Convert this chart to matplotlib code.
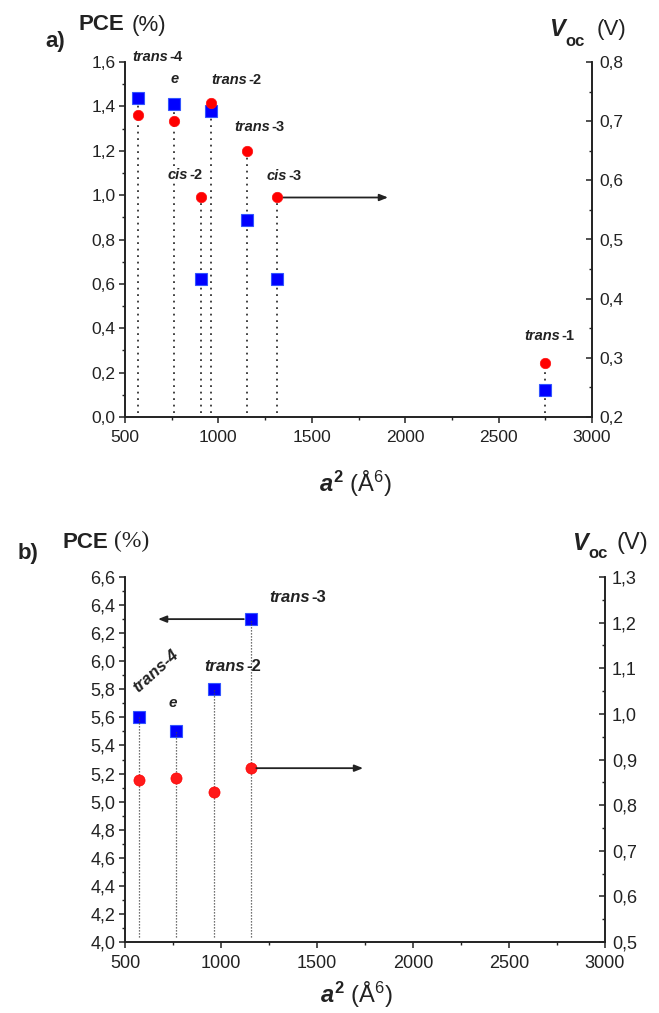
import matplotlib
matplotlib.use('Agg')
import matplotlib.pyplot as plt
from matplotlib.ticker import MultipleLocator, FuncFormatter

plt.rcParams['font.family'] = ['Liberation Sans', 'DejaVu Sans']
plt.rcParams['mathtext.fontset'] = 'custom'
plt.rcParams['mathtext.rm'] = 'Liberation Sans'
plt.rcParams['mathtext.it'] = 'Liberation Sans:italic:bold'
plt.rcParams['mathtext.bf'] = 'Liberation Sans:bold'

# ---------------- data ----------------
a_x = [568, 762, 960, 907, 1151, 1315, 2750]
a_names = ['trans-4', 'e', 'trans-2', 'cis-2', 'trans-3', 'cis-3', 'trans-1']
a_pce = [1.44, 1.41, 1.38, 0.62, 0.89, 0.62, 0.12]
a_voc = [0.710, 0.701, 0.731, 0.571, 0.650, 0.571, 0.292]

b_x = [571, 764, 962, 1155]
b_names = ['trans-4', 'e', 'trans-2', 'trans-3']
b_pce = [5.6, 5.5, 5.8, 6.3]
b_voc = [0.854, 0.860, 0.829, 0.881]

x_ticks = [500, 1000, 1500, 2000, 2500, 3000]

# ---------------- layout ----------------
W, H = 659, 1013
fig = plt.figure(figsize=(W / 100, H / 100), dpi=100)


def fpos(px, py):
    return px / W, 1 - py / H


def axrect(l, t, r, b):
    return [l / W, 1 - b / H, (r - l) / W, (b - t) / H]


comma = FuncFormatter(lambda v, p: f'{v:.1f}'.replace('.', ','))
INK = '#222222'


def style(ax, ax2, fs, ylim, y2lim, ymaj, y2maj):
    ax.set_xlim(500, 3000)
    ax.set_ylim(*ylim)
    ax2.set_ylim(*y2lim)
    ax.set_xticks(x_ticks)
    ax.xaxis.set_minor_locator(MultipleLocator(250))
    ax.yaxis.set_major_locator(MultipleLocator(ymaj))
    ax.yaxis.set_minor_locator(MultipleLocator(ymaj / 2))
    ax2.yaxis.set_major_locator(MultipleLocator(y2maj))
    ax2.yaxis.set_minor_locator(MultipleLocator(y2maj / 2))
    ax.yaxis.set_major_formatter(comma)
    ax2.yaxis.set_major_formatter(comma)
    for a in (ax, ax2):
        a.spines['top'].set_visible(False)
        for s in a.spines.values():
            s.set_linewidth(1.2)
            s.set_color(INK)
    ax.tick_params(axis='both', which='major', direction='out', length=4.5,
                   width=1.1, color=INK, labelsize=fs, labelcolor=INK)
    ax.tick_params(axis='both', which='minor', direction='out', length=2.5,
                   width=1.0, color=INK)
    ax.tick_params(axis='x', which='major', pad=5)
    ax.tick_params(axis='y', which='major', pad=2.5)
    ax2.tick_params(axis='y', which='major', direction='in', length=4.5,
                    width=1.1, color=INK, labelsize=fs, labelcolor=INK, pad=5)
    ax2.tick_params(axis='y', which='minor', direction='in', length=2.5,
                    width=1.0, color=INK)


def split_label(px, py, it, rest, fs, bbox=False):
    kw = {}
    if bbox:
        kw['bbox'] = dict(fc='white', ec='none', pad=0.3)
    fig.text(*fpos(px, py), it, ha='right', va='center', fontsize=fs,
             fontstyle='italic', fontweight='bold', color=INK, **kw)
    if rest:
        fig.text(*fpos(px + 1, py), rest, ha='left', va='center', fontsize=fs,
                 fontweight='bold', color=INK, **kw)


# ================= panel a =================
ax = fig.add_axes(axrect(125, 62, 592, 417))
ax2 = ax.twinx()
ax2.set_position(axrect(125, 62, 592, 417))
style(ax, ax2, 12.5, (0, 1.6), (0.2, 0.8), 0.2, 0.1)

for x, p, v in zip(a_x, a_pce, a_voc):
    v_in_left = (v - 0.2) / 0.6 * 1.6
    ax.plot([x, x], [0.02, max(p, v_in_left)], color='#333333', lw=1.3,
            ls=(0, (1.0, 2.6)), zorder=1)
ax.plot(a_x, a_pce, ls='none', marker='s', ms=8.5, mfc='#0000ff',
        mec='#3355ff', mew=0.8, zorder=4)
ax2.plot(a_x, a_voc, ls='none', marker='o', ms=7.5, mfc='#ff0000',
         mec='#ff1010', mew=0.5, zorder=4)
ax2.annotate('', xy=(1908, a_voc[5]), xytext=(a_x[5], a_voc[5]),
             arrowprops=dict(arrowstyle='-|>,head_length=0.5,head_width=0.2',
                             lw=1.3, color=INK, shrinkA=4, shrinkB=0))

a_lab_pos = {'trans-4': (168, 57), 'e': (175, 79), 'trans-2': (247, 80),
             'trans-3': (270, 127), 'cis-2': (188, 175), 'cis-3': (287, 176),
             'trans-1': (560, 336)}
for name in a_names:
    px, py = a_lab_pos[name]
    if '-' in name:
        it, num = name.split('-')
        split_label(px, py, it, '-' + num, 10.5, bbox=(name == 'cis-2'))
    else:
        fig.text(*fpos(px, py), name, ha='center', va='center', fontsize=10.5,
                 fontstyle='italic', fontweight='bold', color=INK)

fig.text(*fpos(45, 42), 'a)', ha='left', va='center', fontsize=16,
         fontweight='bold', color=INK)
fig.text(*fpos(78, 25), 'PCE', ha='left', va='center', fontsize=16,
         fontweight='bold', color=INK)
fig.text(*fpos(132, 25), '(%)', ha='left', va='center', fontsize=16, color=INK)
fig.text(*fpos(549, 30), 'V', ha='left', va='center', fontsize=17,
         fontweight='bold', fontstyle='italic', color=INK)
fig.text(*fpos(565, 42), 'oc', ha='left', va='center', fontsize=12,
         fontweight='bold', color=INK)
fig.text(*fpos(597, 30), '(V)', ha='left', va='center', fontsize=16, color=INK)
fig.text(*fpos(355, 484), r'$a^{\mathbf{2}}$ (Å$^{\mathrm{6}}$)', ha='center',
         va='center', fontsize=17, color=INK)

# ================= panel b =================
bx = fig.add_axes(axrect(125, 577, 605, 942))
bx2 = bx.twinx()
bx2.set_position(axrect(125, 577, 605, 942))
style(bx, bx2, 13, (4.0, 6.6), (0.5, 1.3), 0.2, 0.1)

bx.plot(b_x, b_pce, ls='none', marker='s', ms=8.5, mfc='#0000ff',
        mec='#3355ff', mew=0.8, zorder=3)
bx2.plot(b_x, b_voc, ls='none', marker='o', ms=8, mfc='#ff1a1a',
         mec='#ff0000', mew=0.5, zorder=3)
for x, p in zip(b_x, b_pce):
    bx.plot([x, x], [4.035, p], color='#444444', lw=0.9,
            ls=(0, (1.0, 1.4)), zorder=5)
bx.annotate('', xy=(672, b_pce[3]), xytext=(b_x[3], b_pce[3]),
            arrowprops=dict(arrowstyle='-|>,head_length=0.5,head_width=0.2',
                            lw=1.3, color=INK, shrinkA=5, shrinkB=0))
bx2.annotate('', xy=(1740, b_voc[3]), xytext=(b_x[3], b_voc[3]),
             arrowprops=dict(arrowstyle='-|>,head_length=0.5,head_width=0.2',
                             lw=1.3, color=INK, shrinkA=4, shrinkB=0))

b_lab_pos = {'e': (173, 703), 'trans-2': (245, 666), 'trans-3': (310, 597)}
for name in b_names:
    if name == 'trans-4':
        fig.text(*fpos(156, 671), name, ha='center', va='center', fontsize=12,
                 rotation=42, fontstyle='italic', fontweight='bold', color=INK,
                 rotation_mode='anchor')
        continue
    px, py = b_lab_pos[name]
    if '-' in name:
        it, num = name.split('-')
        split_label(px, py, it, '-' + num, 12)
    else:
        fig.text(*fpos(px, py), name, ha='center', va='center', fontsize=11,
                 fontstyle='italic', fontweight='bold', color=INK)

fig.text(*fpos(18, 553), 'b)', ha='left', va='center', fontsize=16,
         fontweight='bold', color=INK)
fig.text(*fpos(62, 542), 'PCE', ha='left', va='center', fontsize=16,
         fontweight='bold', color=INK)
fig.text(*fpos(114, 541), '(%)', ha='left', va='center', fontsize=17,
         family='Liberation Serif', color=INK)
fig.text(*fpos(572, 543), 'V', ha='left', va='center', fontsize=17,
         fontweight='bold', fontstyle='italic', color=INK)
fig.text(*fpos(588, 554), 'oc', ha='left', va='center', fontsize=12,
         fontweight='bold', color=INK)
fig.text(*fpos(616, 543), '(V)', ha='left', va='center', fontsize=17, color=INK)
fig.text(*fpos(356, 995), r'$a^{\mathbf{2}}$ (Å$^{\mathrm{6}}$)', ha='center',
         va='center', fontsize=17, color=INK)

fig.savefig('out.png', dpi=100)
